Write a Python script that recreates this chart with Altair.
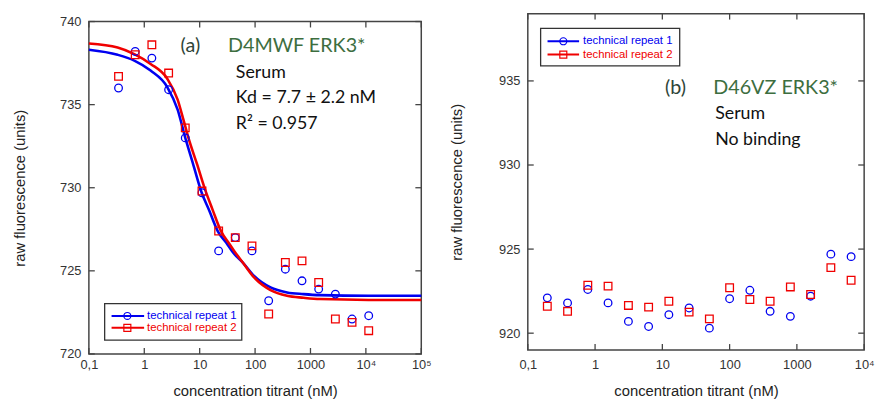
import altair as alt
import pandas as pd

series = ["technical repeat 1", "technical repeat 2"]
colors = ["#0000f0", "#f00000"]
shapes = ["circle", "square"]

# ---- panel (a): D4MWF ERK3*
a_conc = [0.343, 0.686, 1.37, 2.75, 5.49, 11.0, 22.0, 43.9, 87.9, 176, 352, 703, 1406, 2813, 5625, 11250]
a_rep1 = [736.0, 738.2, 737.8, 735.9, 733.0, 729.7, 726.2, 727.0, 726.2, 723.2, 725.1, 724.4, 723.9, 723.6, 722.1, 722.3]
a_rep2 = [736.7, 738.0, 738.6, 736.9, 733.6, 729.8, 727.4, 727.0, 726.5, 722.4, 725.5, 725.6, 724.3, 722.1, 721.9, 721.4]
a_fit1_conc = [0.1, 0.33, 0.66, 1.3, 2.6, 4.0, 5.5, 7.5, 10.8, 15, 21.4, 30, 40, 60, 96, 190, 378, 750, 1475, 11200, 100000]
a_fit1 = [738.3, 738.0, 737.65, 737.05, 736.06, 734.7, 733.0, 731.5, 729.73, 728.6, 727.36, 726.7, 726.1, 725.5, 724.69, 724.0, 723.7, 723.6, 723.54, 723.5, 723.5]
a_fit2_conc = [0.1, 0.33, 0.66, 1.3, 2.6, 4.0, 5.1, 6.27, 9, 12.4, 17, 24.5, 33, 42.5, 60, 96, 190, 378, 750, 1475, 11200, 100000]
a_fit2 = [738.68, 738.44, 738.04, 737.45, 736.56, 735.3, 734.08, 733.0, 731.4, 729.93, 728.7, 727.36, 726.7, 726.17, 725.5, 724.6, 723.84, 723.5, 723.38, 723.3, 723.25, 723.25]
a_xticks = [0.1, 1, 10, 100, 1000, 10000, 100000]
a_yticks = [720, 725, 730, 735, 740]

# ---- panel (b): D46VZ ERK3*
b_conc = [0.195, 0.39, 0.78, 1.56, 3.13, 6.25, 12.5, 25, 50, 100, 200, 400, 800, 1600, 3200, 6400]
b_rep1 = [922.1, 921.8, 922.6, 921.8, 920.7, 920.4, 921.1, 921.5, 920.3, 922.05, 922.55, 921.3, 921.0, 922.2, 924.7, 924.55]
b_rep2 = [921.6, 921.3, 922.85, 922.8, 921.65, 921.55, 921.9, 921.25, 920.85, 922.7, 922.0, 921.9, 922.75, 922.3, 923.9, 923.15]
b_xticks = [0.1, 1, 10, 100, 1000, 10000]
b_yticks = [920, 925, 930, 935]

LABEL_EXPR = ("datum.value < 0.5 ? '0,1' : datum.value > 50000 ? '10\u2075' : "
              "datum.value > 5000 ? '10\u2074' : format(datum.value, 'd')")
FRAME = "#444444"
DUMMY = pd.DataFrame({"a": [0]})


def panel(conc, rep1, rep2, fits, xdom, ydom, xticks, yticks, W, H,
          lab_pad_x, title_pad_x, title_pad_y, annots, leg):
    xs = alt.Scale(type="log", domain=xdom, nice=False)
    ys = alt.Scale(domain=ydom, zero=False, nice=False)
    cs = alt.Scale(domain=series, range=colors)
    ss = alt.Scale(domain=series, range=shapes)
    xa = alt.Axis(values=xticks, labelExpr=LABEL_EXPR, title="concentration titrant (nM)",
                  labelPadding=lab_pad_x, titlePadding=title_pad_x, labelFlush=False,
                  labelOverlap=False, labelBound=False)
    ya = alt.Axis(values=yticks, format="d", title="raw fluorescence (units)",
                  labelPadding=8, titlePadding=title_pad_y)

    def X(f):
        return alt.X(f, scale=xs, axis=xa)

    def Y(f):
        return alt.Y(f, scale=ys, axis=ya)

    pts = pd.DataFrame({
        "conc": conc + conc,
        "value": rep1 + rep2,
        "series": [series[0]] * len(conc) + [series[1]] * len(conc),
    })
    layers = []
    if fits:
        rows = []
        for s, (fx, fy) in zip(series, fits):
            rows += [{"conc": c, "value": v, "series": s} for c, v in zip(fx, fy)]
        layers.append(
            alt.Chart(pd.DataFrame(rows)).mark_line(interpolate="monotone", strokeWidth=2.6).encode(
                x=X("conc:Q"), y=Y("value:Q"),
                color=alt.Color("series:N", scale=cs, legend=None),
                detail="series:N",
            )
        )
    layers.append(
        alt.Chart(pts).mark_point(filled=False, size=60, strokeWidth=1.3, opacity=1).encode(
            x=X("conc:Q"), y=Y("value:Q"),
            color=alt.Color("series:N", scale=cs, legend=None),
            shape=alt.Shape("series:N", scale=ss, legend=None),
        )
    )
    # inward ticks on all four sides
    xt = pd.DataFrame({"conc": xticks})
    yt = pd.DataFrame({"value": yticks})
    for y0, y1 in [(0, 6), (H, H - 6)]:
        layers.append(alt.Chart(xt).mark_rule(color=FRAME, strokeWidth=1.3).encode(
            x=X("conc:Q"), y=alt.value(y0), y2=alt.value(y1)))
    for x0, x1 in [(0, 6), (W, W - 6)]:
        layers.append(alt.Chart(yt).mark_rule(color=FRAME, strokeWidth=1.3).encode(
            y=Y("value:Q"), x=alt.value(x0), x2=alt.value(x1)))
    # annotations
    for txt, px, py, col, fs in annots:
        layers.append(alt.Chart(DUMMY).mark_text(
            text=txt, align="left", baseline="alphabetic", font="Lato", fontSize=fs, color=col
        ).encode(x=alt.value(px), y=alt.value(py)))
    # legend box
    bx0, bx1, by0, by1, lx0, lx1, mx, tx, rows_y = leg
    layers.append(alt.Chart(DUMMY).mark_rect(fill="white", stroke="#333333", strokeWidth=1.3).encode(
        x=alt.value(bx0), x2=alt.value(bx1), y=alt.value(by0), y2=alt.value(by1)))
    for s, col, shp, ry in zip(series, colors, shapes, rows_y):
        layers.append(alt.Chart(DUMMY).mark_rule(color=col, strokeWidth=2).encode(
            x=alt.value(lx0), x2=alt.value(lx1), y=alt.value(ry)))
        layers.append(alt.Chart(DUMMY).mark_point(shape=shp, filled=False, size=50, color=col,
                                                  strokeWidth=1.2, opacity=1).encode(
            x=alt.value(mx), y=alt.value(ry)))
        layers.append(alt.Chart(DUMMY).mark_text(
            text=s, align="left", baseline="middle", font="Liberation Sans", fontSize=11.5, color=col
        ).encode(x=alt.value(tx), y=alt.value(ry)))
    return alt.layer(*layers).properties(width=W, height=H)


DARK = "#2f4538"
GREEN = "#3d6e3f"
INK = "#111111"

left = panel(
    a_conc, a_rep1, a_rep2, [(a_fit1_conc, a_fit1), (a_fit2_conc, a_fit2)],
    [0.1, 100000], [720, 740], a_xticks, a_yticks, 337, 337,
    5, 12, 33,
    [("(a)", 93, 31, DARK, 20), ("D4MWF ERK3*", 141, 31, GREEN, 20),
     ("Serum", 149, 57, INK, 18), ("Kd = 7.7 \u00b1 2.2 nM", 149, 83, INK, 18),
     ("R\u00b2 = 0.957", 149, 109, INK, 18)],
    (16, 155, 286, 323, 23, 56, 39, 59, [298.5, 310.5]),
)
right = panel(
    b_conc, b_rep1, b_rep2, None,
    [0.1, 10000], [919, 939], b_xticks, b_yticks, 341, 341,
    9, 12, 35,
    [("(b)", 139, 81, DARK, 20), ("D46VZ ERK3*", 188, 81, GREEN, 20),
     ("Serum", 190, 107, INK, 18), ("No binding", 190, 133, INK, 18)],
    (13, 154, 15, 53, 20, 52, 36, 56, [28, 41.5]),
)

# invisible spacer that lowers panel (a) relative to panel (b)
spacer = alt.Chart(DUMMY).mark_rect(opacity=0).encode(
    x=alt.value(0), x2=alt.value(1), y=alt.value(0), y2=alt.value(1)
).properties(width=337, height=1, view=alt.ViewBackground(strokeOpacity=0))

chart = alt.hconcat(alt.vconcat(spacer, left, spacing=0), right, spacing=16).properties(
    padding={"left": 3, "top": 1, "right": 0, "bottom": 0}
).configure_view(
    stroke=FRAME, strokeWidth=1.5
).configure_axis(
    domain=False, ticks=False, grid=False,
    labelFont="Liberation Sans", labelFontSize=13, labelColor="#333333",
    titleFont="Liberation Sans", titleFontSize=15, titleFontWeight="normal", titleColor="#222222",
)

chart.save("out.html", embed_options={"renderer": "svg", "actions": False})
